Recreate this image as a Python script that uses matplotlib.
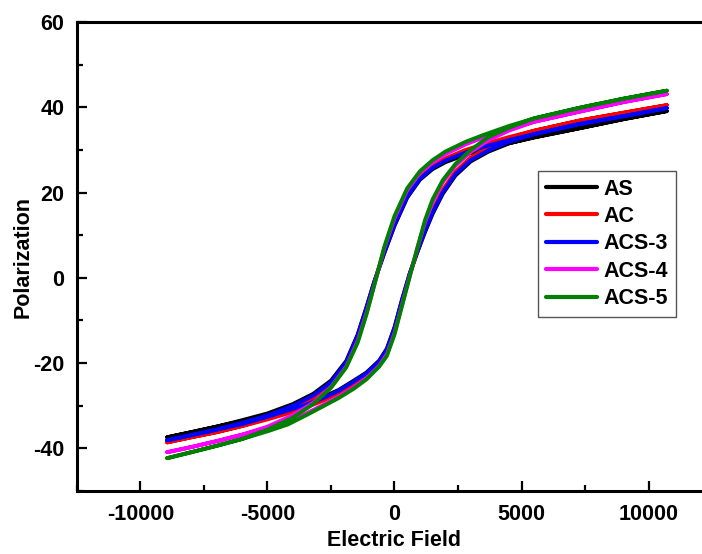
import matplotlib
matplotlib.use("Agg")
import matplotlib.pyplot as plt
from matplotlib.ticker import MultipleLocator

plt.rcParams["axes.unicode_minus"] = False

# field values along the descending (upper) and ascending (lower) branches
e_up = [10720, 9000, 7300, 5500, 4500, 3500, 2800, 2000, 1500, 1000, 500, 0,
        -400, -800, -1100, -1450, -1900, -2500, -3200, -4000, -5000, -6000,
        -7000, -8000, -8950]
e_dn = [-8950, -8000, -7000, -6000, -5000, -4200, -3500, -2800, -2200, -1600,
        -1100, -600, -300, 0, 300, 600, 900, 1200, 1500, 1900, 2400, 3000,
        3700, 4500, 5500, 7300, 9000, 10720]

labels = ["AS", "AC", "ACS-3", "ACS-4", "ACS-5"]
colors = ["black", "red", "blue", "magenta", "green"]

as_up = [39.1, 37.2, 35.1, 32.9, 31.6, 30.0, 28.9, 27.1, 25.5, 23.0, 18.8, 12.2,
         5.8, -1.0, -6.8, -13.3, -19.5, -24.1, -27.2, -29.6, -31.8, -33.4,
         -34.9, -36.2, -37.4]
as_dn = [-37.4, -36.2, -34.9, -33.6, -32.1, -30.7, -29.4, -27.9, -26.3, -24.1,
         -22.2, -19.4, -16.6, -11.6, -5.0, 1.0, 6.0, 10.7, 15.0, 19.7, 24.0, 27.3,
         29.6, 31.5, 33.0, 35.1, 37.2, 39.1]

ac_up = [40.5, 38.7, 36.9, 34.5, 33.0, 31.3, 30.0, 28.0, 26.3, 23.8, 19.6, 13.0,
         6.4, -1.2, -7.3, -13.9, -20.2, -24.9, -28.1, -30.6, -33.0, -34.7,
         -36.2, -37.4, -38.6]
ac_dn = [-38.6, -37.4, -36.2, -34.8, -33.2, -31.8, -30.4, -28.8, -27.0, -24.9,
         -23.0, -20.2, -17.3, -12.3, -5.5, 0.8, 6.2, 11.3, 15.8, 20.6, 24.9, 28.2,
         30.6, 32.7, 34.5, 36.9, 38.7, 40.5]

acs3_up = [39.8, 37.9, 36.1, 33.7, 32.3, 30.7, 29.4, 27.5, 25.8, 23.2, 19.0, 12.4,
           6.0, -1.0, -7.0, -13.5, -19.8, -24.5, -27.6, -30.0, -32.3, -34.0,
           -35.6, -36.9, -38.1]
acs3_dn = [-38.1, -36.9, -35.6, -34.3, -32.6, -31.1, -29.8, -28.2, -26.5, -24.3,
           -22.4, -19.6, -16.8, -11.8, -5.2, 1.0, 6.2, 11.0, 15.3, 20.0, 24.3, 27.6,
           29.9, 31.9, 33.7, 36.1, 37.9, 39.8]

acs4_up = [43.1, 41.2, 39.0, 36.6, 34.9, 32.9, 31.3, 29.0, 27.1, 24.6, 20.6, 14.0,
           7.0, -1.8, -8.2, -14.8, -20.8, -25.6, -29.3, -32.2, -34.9, -36.8,
           -38.3, -39.7, -40.9]
acs4_dn = [-40.9, -39.7, -38.3, -36.8, -35.2, -33.8, -31.9, -29.8, -27.9, -25.7,
           -23.5, -20.6, -17.9, -13.0, -6.2, 0.4, 7.0, 13.0, 17.8, 22.4, 26.3, 29.5,
           32.3, 34.5, 36.6, 39.0, 41.2, 43.1]

acs5_up = [43.9, 42.0, 39.9, 37.4, 35.6, 33.5, 31.9, 29.6, 27.6, 25.0, 21.0, 14.5,
           7.3, -1.8, -8.5, -15.2, -21.0, -25.8, -29.6, -32.8, -35.6, -37.8,
           -39.4, -40.9, -42.3]
acs5_dn = [-42.3, -40.9, -39.4, -37.8, -36.0, -34.4, -32.3, -30.1, -28.2, -26.0,
           -23.8, -20.8, -18.3, -13.3, -6.5, 0.3, 7.0, 13.5, 18.4, 22.9, 26.7, 30.0,
           33.0, 35.2, 37.4, 39.9, 42.0, 43.9]

upper = [as_up, ac_up, acs3_up, acs4_up, acs5_up]
lower = [as_dn, ac_dn, acs3_dn, acs4_dn, acs5_dn]

FONT = "Liberation Sans"
FS = 15.5

fig = plt.figure(figsize=(7.02, 5.54), dpi=100)
ax = fig.add_axes([77 / 702, 63 / 554, 635 / 702, 469 / 554])

for lab, col, pu, pd in zip(labels, colors, upper, lower):
    ax.plot(e_up + e_dn, pu + pd, color=col, lw=2.8, label=lab,
            solid_joinstyle="round", solid_capstyle="round")

ax.set_xlim(-12500, 12500)
ax.set_ylim(-50, 60)
ax.xaxis.set_major_locator(MultipleLocator(5000))
ax.xaxis.set_minor_locator(MultipleLocator(2500))
ax.yaxis.set_major_locator(MultipleLocator(20))
ax.yaxis.set_minor_locator(MultipleLocator(10))
ax.tick_params(which="both", direction="in", top=False, right=False, width=1.6)
ax.tick_params(which="major", length=7, pad=9)
ax.tick_params(which="minor", length=4)
for sp in ax.spines.values():
    sp.set_linewidth(2.2)

for t in ax.get_xticklabels() + ax.get_yticklabels():
    t.set_fontfamily(FONT)
    t.set_fontweight("bold")
    t.set_fontsize(FS)

ax.set_xlabel("Electric Field", fontfamily=FONT, fontweight="bold",
              fontsize=FS, labelpad=4)
ax.set_ylabel("Polarization", fontfamily=FONT, fontweight="bold",
              fontsize=FS, labelpad=0)

leg = ax.legend(loc="upper left", bbox_to_anchor=((538 - 77) / 635, (491 - 171) / 469),
                borderaxespad=0, fancybox=False, framealpha=1, edgecolor="#555555",
                handlelength=2.4, handletextpad=0.3, labelspacing=0.3,
                borderpad=0.35,
                prop={"family": FONT, "weight": "bold", "size": FS})
leg.get_frame().set_linewidth(1.0)
for ln in leg.get_lines():
    ln.set_linewidth(3.0)

fig.savefig("out.png", dpi=100)
